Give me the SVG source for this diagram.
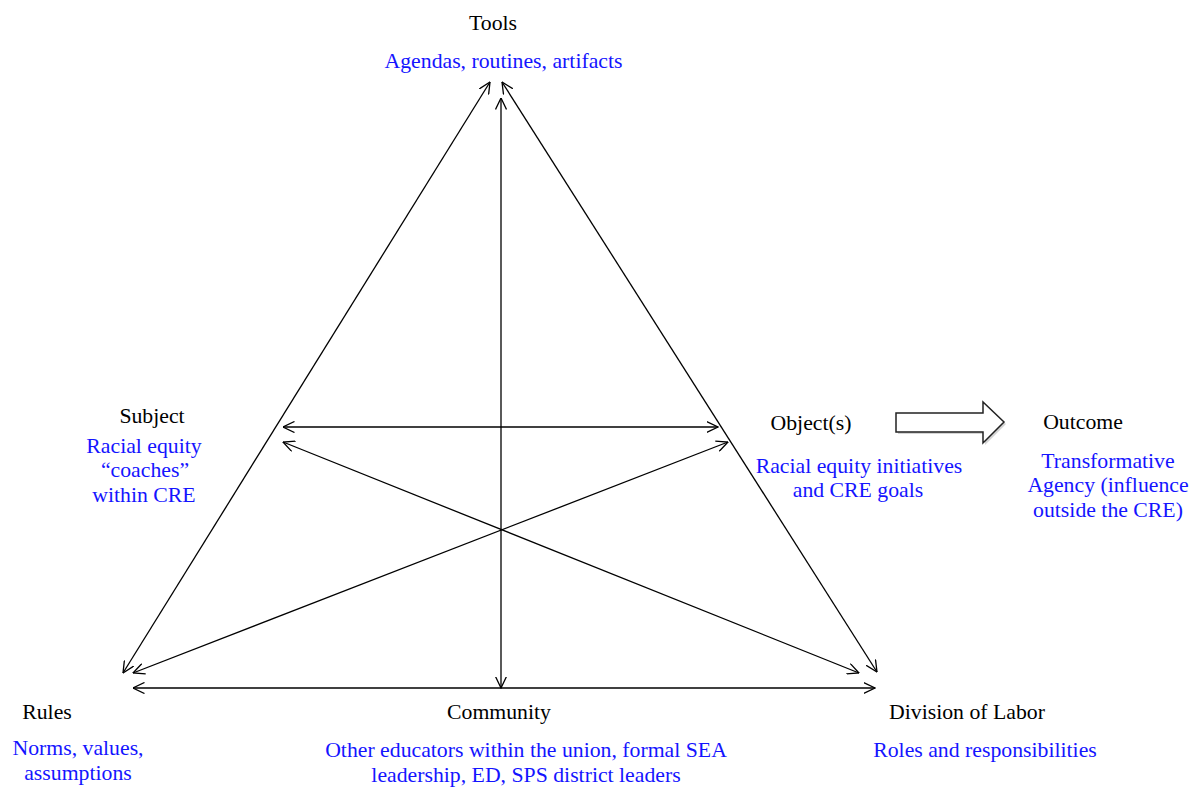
<svg xmlns="http://www.w3.org/2000/svg" width="1193" height="787" viewBox="0 0 1193 787">
  <defs>
    <marker id="arr" viewBox="0 0 12 12" refX="11.5" refY="6" markerWidth="12" markerHeight="12" markerUnits="userSpaceOnUse" orient="auto-start-reverse">
      <path d="M0,0.5 L11.5,6 L0,11.5" fill="none" stroke="#000" stroke-width="1.3"/>
    </marker>
  </defs>
  <style>
    .lbl { font-family: "Liberation Serif", "Times New Roman", serif; font-size: 21.75px; fill: #000; text-anchor: middle; }
    .val { font-family: "Liberation Serif", "Times New Roman", serif; font-size: 21.75px; fill: #1414ff; text-anchor: middle; }
    .con { stroke: #000; stroke-width: 1.3; fill: none; marker-start: url(#arr); marker-end: url(#arr); }
  </style>
  <rect width="1193" height="787" fill="#fff"/>
  <g id="connectors">
    <line class="con" x1="490" y1="82" x2="123" y2="673"/>
    <line class="con" x1="502" y1="82" x2="877" y2="672"/>
    <line class="con" x1="501" y1="98" x2="501" y2="688"/>
    <line class="con" x1="133" y1="688" x2="875" y2="688"/>
    <line class="con" x1="283" y1="427" x2="718" y2="427"/>
    <line class="con" x1="283" y1="442" x2="859" y2="673"/>
    <line class="con" x1="133" y1="673" x2="728" y2="442"/>
  </g>
  <g id="outcome-arrow">
    <polygon points="898,415 985,415 985,404 1006,424 985,445 985,434 898,434" fill="#aaa" opacity="0.5"/>
    <polygon points="896,413 983,413 983,402 1004,422 983,443 983,432 896,432" fill="#fff" stroke="#222" stroke-width="1.5" stroke-linejoin="miter"/>
  </g>
  <g id="tools">
    <text class="lbl" x="493" y="30">Tools</text>
    <text class="val" x="503.5" y="68">Agendas, routines, artifacts</text>
  </g>
  <g id="subject">
    <text class="lbl" x="152" y="423">Subject</text>
    <text class="val" x="144" y="453">Racial equity</text>
    <text class="val" x="145" y="477">“coaches”</text>
    <text class="val" x="144" y="502">within CRE</text>
  </g>
  <g id="object">
    <text class="lbl" x="811" y="430">Object(s)</text>
    <text class="val" x="859" y="473">Racial equity initiatives</text>
    <text class="val" x="858" y="497">and CRE goals</text>
  </g>
  <g id="outcome">
    <text class="lbl" x="1083" y="429">Outcome</text>
    <text class="val" x="1108" y="468">Transformative</text>
    <text class="val" x="1108" y="492">Agency (influence</text>
    <text class="val" x="1108" y="517">outside the CRE)</text>
  </g>
  <g id="rules">
    <text class="lbl" x="47" y="719">Rules</text>
    <text class="val" x="78" y="755">Norms, values,</text>
    <text class="val" x="78" y="780">assumptions</text>
  </g>
  <g id="community">
    <text class="lbl" x="499" y="719">Community</text>
    <text class="val" x="526" y="757">Other educators within the union, formal SEA</text>
    <text class="val" x="526" y="782">leadership, ED, SPS district leaders</text>
  </g>
  <g id="division">
    <text class="lbl" x="967" y="719">Division of Labor</text>
    <text class="val" x="985" y="757">Roles and responsibilities</text>
  </g>
</svg>
